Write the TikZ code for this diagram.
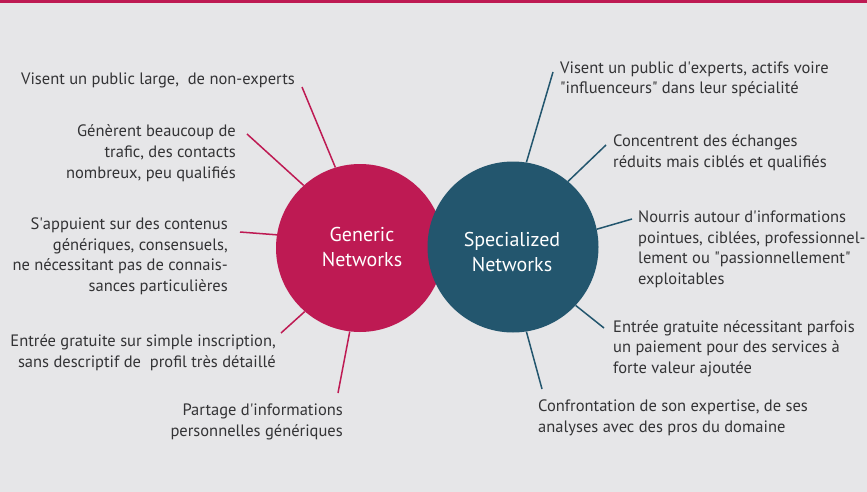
\documentclass[tikz,border=0pt]{standalone}
\usepackage{fontspec}
\setmainfont{PT Sans}
\definecolor{bg}{HTML}{E6E6E8}
\definecolor{mag}{HTML}{BE1A53}
\definecolor{blu}{HTML}{23566E}
\definecolor{txt}{HTML}{333335}
\newcommand{\sq}{\textquotesingle}
\newcommand{\dq}{\textquotedbl}
\tikzset{
  ltxt/.style={text=txt, font=\fontsize{16.5}{20.5}\selectfont, inner sep=0pt, align=right, anchor=base east},
  rtxt/.style={text=txt, font=\fontsize{16.5}{20.5}\selectfont, inner sep=0pt, align=left, anchor=base west},
  bubble/.style={circle, inner sep=0pt},
  btxt/.style={text=white, align=center, inner sep=0pt, font=\fontsize{20}{25}\selectfont},
  magline/.style={draw=mag, line width=1.5pt},
  bluline/.style={draw=blu, line width=1.5pt}
}
\begin{document}
\begin{tikzpicture}[x=1pt,y=-1pt]
\fill[bg] (0,0) rectangle (867,492);
\fill[mag] (0,0) rectangle (867,3);
\useasboundingbox (0,0) rectangle (867,492);
\node[bubble, fill=mag, minimum size=168pt] (gen) at (360,248) {};
\node[bubble, fill=blu, minimum size=171pt] (spec) at (513,247) {};
\node[btxt] (gent) at (362,247) {Generic\\Networks};
\node[btxt] (spect) at (512,252) {Specialized\\Networks};
% left texts
\node[ltxt] (l1) at (295,85) {Visent un public large,\ \ de non-experts};
\node[ltxt] (l2) at (236,178) {Génèrent beaucoup de\\trafic, des contacts\\nombreux, peu qualifiés};
\node[ltxt] (l3) at (228,291) {S\sq appuient sur des contenus\\génériques, consensuels,\\ne nécessitant pas de connais-\\sances particulières};
\node[ltxt] (l4) at (276,367) {Entrée gratuite sur simple inscription,\\sans descriptif de\ \ profil très détaillé};
\node[ltxt] (l5) at (343,436) {Partage d\sq informations\\personnelles génériques};
% right texts
\node[rtxt] (r1) at (560,94) {Visent un public d\sq experts, actifs voire\\\dq influenceurs\dq\ dans leur spécialité};
\node[rtxt] (r2) at (613,167) {Concentrent des échanges\\réduits mais ciblés et qualifiés};
\node[rtxt] (r3) at (638,284) {Nourris autour d\sq informations\\pointues, ciblées, professionnel-\\lement ou \dq passionnellement\dq\\exploitables};
\node[rtxt] (r4) at (613,373) {Entrée gratuite nécessitant parfois\\un paiement pour des services à\\forte valeur ajoutée};
\node[rtxt] (r5) at (538,432) {Confrontation de son expertise, de ses\\analyses avec des pros du domaine};
% connector ends
\coordinate (a1) at (302,87);
\coordinate (a2) at (247,134);
\coordinate (a3) at (240,232);
\coordinate (a4) at (281,333);
\coordinate (a5) at (338,393);
\coordinate (b1) at (553,72);
\coordinate (b2) at (606,145);
\coordinate (b3) at (632,219);
\coordinate (b4) at (604,328);
\coordinate (b5) at (542,389);
\draw[magline] (a1) -- (gen.107);
\draw[magline] (a2) -- (gen.132.6);
\draw[magline] (a3) -- (gen.171.7);
\draw[magline] (a4) -- (gen.229.3);
\draw[magline] (a5) -- (gen.263.2);
\draw[bluline] (b1) -- (spec.81.2);
\draw[bluline] (b2) -- (spec.50.2);
\draw[bluline] (b3) -- (spec.12.7);
\draw[bluline] (b4) -- (spec.-43.1);
\draw[bluline] (b5) -- (spec.-81.9);
\end{tikzpicture}
\end{document}
